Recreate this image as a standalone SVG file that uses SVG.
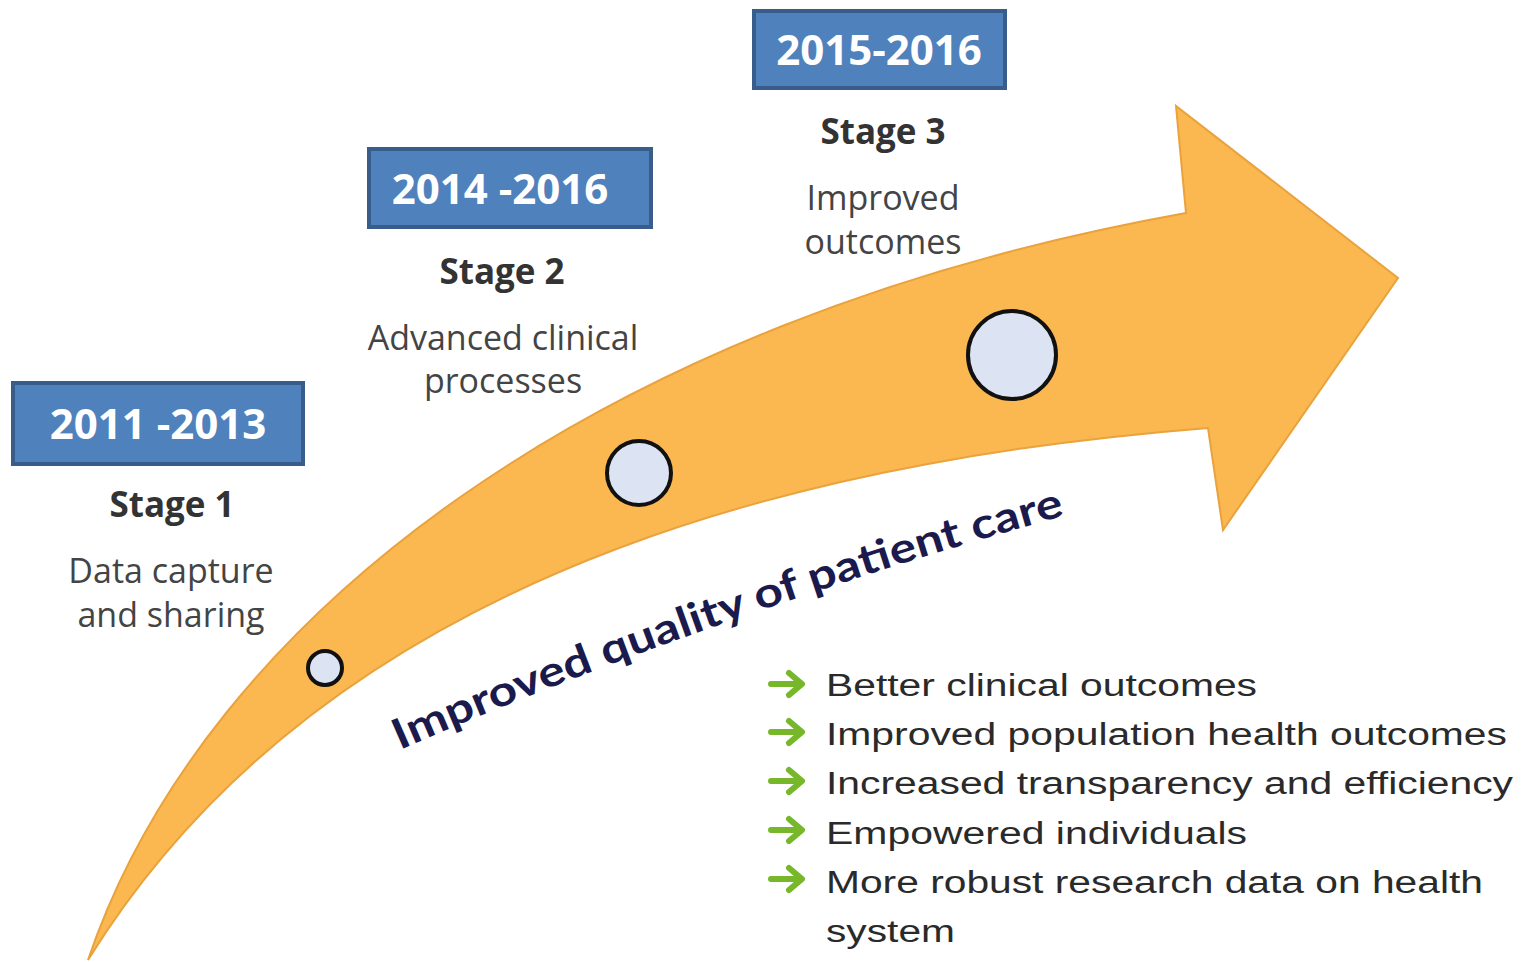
<svg xmlns="http://www.w3.org/2000/svg" width="1525" height="962" viewBox="0 0 1525 962">
<style>
.yr{fill:#4f81bd;stroke:#385d8a;stroke-width:4}
.yt{font-family:"Open Sans","Liberation Sans",sans-serif;font-weight:bold;font-size:42px;fill:#fff;text-anchor:middle}
.st{font-family:"Open Sans","Liberation Sans",sans-serif;font-weight:bold;font-size:35px;fill:#333;text-anchor:middle}
.sd{font-family:"Open Sans","Liberation Sans",sans-serif;font-size:34px;fill:#444;text-anchor:middle}
.dot{fill:#dce3f3;stroke:#111;stroke-width:4}
.bl{font-family:"Liberation Sans",Arial,sans-serif;font-size:31px;fill:#2a2a2a}
.ga{fill:none;stroke:#76b82a;stroke-width:6;stroke-linecap:round;stroke-linejoin:round}
</style>
<defs>
<g id="garrow"><path class="ga" d="M0 0 H30 M18 -11 L31 0 L18 11"/></g>
<path id="curve" d="M400 750 C535 690 800 588 1074 513"/>
</defs>
<rect width="1525" height="962" fill="#fff"/>
<g id="arrow">
<path d="M88 960 C205 615 600 318 1186 213 L1176 106 L1398 278 L1223 530 L1208 428 C870 455 345 545 88 960 Z" fill="#fbb850" stroke="#e9a23c" stroke-width="2"/>
</g>
<g id="dots">
<circle class="dot" cx="325" cy="668" r="17"/>
<circle class="dot" cx="639" cy="473" r="32"/>
<circle class="dot" cx="1012" cy="355" r="44"/>
</g>
<g id="stage1">
<rect class="yr" x="13" y="383" width="290" height="81"/>
<text class="yt" x="158" y="439">2011 -2013</text>
<text class="st" x="172" y="517">Stage 1</text>
<text class="sd" x="171" y="583">Data capture</text>
<text class="sd" x="171" y="627">and sharing</text>
</g>
<g id="stage2">
<rect class="yr" x="369" y="149" width="282" height="78"/>
<text class="yt" x="500" y="204">2014 -2016</text>
<text class="st" x="502" y="284">Stage 2</text>
<text class="sd" x="503" y="350">Advanced clinical</text>
<text class="sd" x="503" y="393">processes</text>
</g>
<g id="stage3">
<rect class="yr" x="754" y="11" width="251" height="77"/>
<text class="yt" x="879" y="65">2015-2016</text>
<text class="st" x="883" y="144">Stage 3</text>
<text class="sd" x="883" y="210">Improved</text>
<text class="sd" x="883" y="254">outcomes</text>
</g>
<g id="curvedLabel">
<text font-family="Lato,'Open Sans',sans-serif" font-weight="bold" font-size="42" fill="#1b1a4d"><textPath href="#curve" textLength="706" lengthAdjust="spacingAndGlyphs">Improved quality of patient care</textPath></text>
</g>
<g id="benefits">
<use href="#garrow" x="771" y="684"/>
<use href="#garrow" x="771" y="732"/>
<use href="#garrow" x="771" y="781"/>
<use href="#garrow" x="771" y="830"/>
<use href="#garrow" x="771" y="879"/>
<text class="bl" x="826" y="696" textLength="431" lengthAdjust="spacingAndGlyphs">Better clinical outcomes</text>
<text class="bl" x="826" y="745" textLength="681" lengthAdjust="spacingAndGlyphs">Improved population health outcomes</text>
<text class="bl" x="826" y="794" textLength="687" lengthAdjust="spacingAndGlyphs">Increased transparency and efficiency</text>
<text class="bl" x="826" y="844" textLength="421" lengthAdjust="spacingAndGlyphs">Empowered individuals</text>
<text class="bl" x="826" y="893" textLength="657" lengthAdjust="spacingAndGlyphs">More robust research data on health</text>
<text class="bl" x="826" y="942" textLength="129" lengthAdjust="spacingAndGlyphs">system</text>
</g>
</svg>
